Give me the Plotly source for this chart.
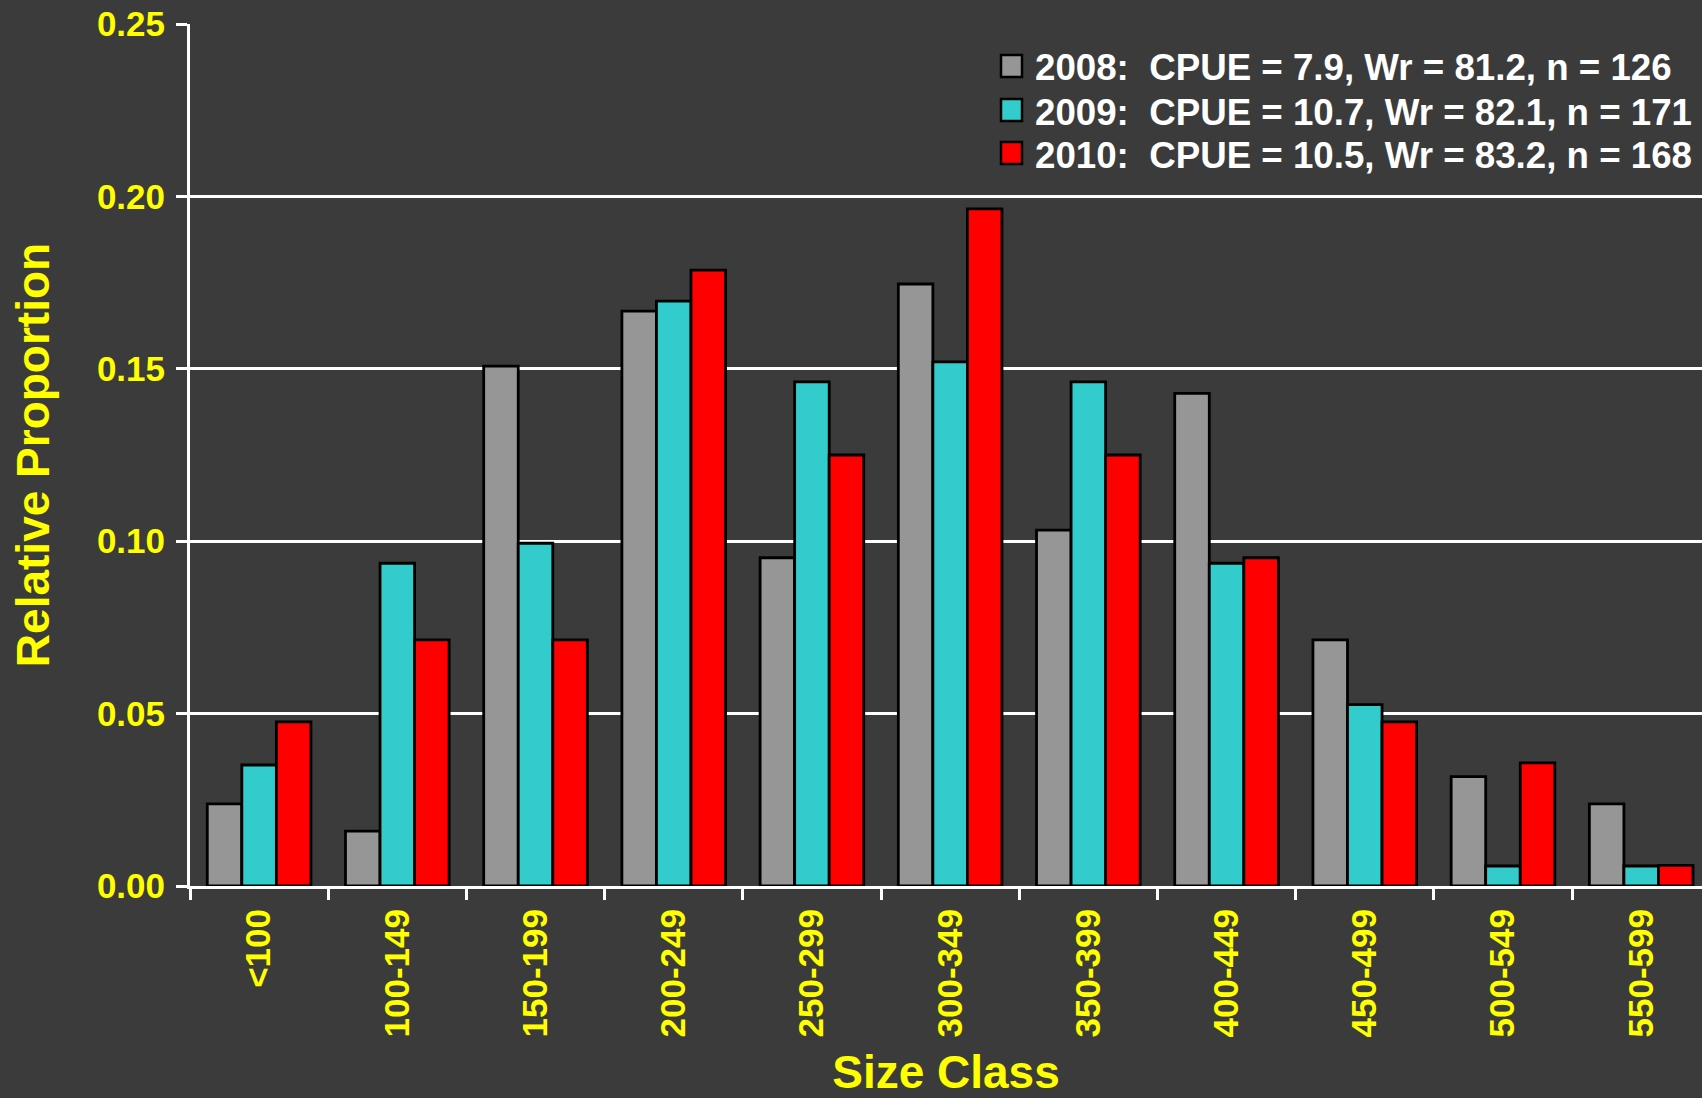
import plotly.graph_objects as go

size_classes = ["<100", "100-149", "150-199", "200-249", "250-299", "300-349",
                "350-399", "400-449", "450-499", "500-549", "550-599"]
prop_2008 = [0.0238, 0.0159, 0.1508, 0.1667, 0.0952, 0.1746, 0.1032, 0.1429, 0.0714, 0.0317, 0.0238]
prop_2009 = [0.0351, 0.0936, 0.0994, 0.1696, 0.1462, 0.1520, 0.1462, 0.0936, 0.0526, 0.0058, 0.0058]
prop_2010 = [0.0476, 0.0714, 0.0714, 0.1786, 0.1250, 0.1964, 0.1250, 0.0952, 0.0476, 0.0357, 0.0060]
legend_labels = [
    "2008:\u00a0 CPUE = 7.9, Wr = 81.2, n = 126",
    "2009:\u00a0 CPUE = 10.7, Wr = 82.1, n = 171",
    "2010:\u00a0 CPUE = 10.5, Wr = 83.2, n = 168",
]
colors = ["#969696", "#33CCCC", "#FF0000"]
series = [prop_2008, prop_2009, prop_2010]

W, H = 1702, 1098
L, R, T, B = 190, 0, 24, 212
FONT = "Liberation Sans, Arial, sans-serif"
BG = "#3b3b3b"

fig = go.Figure()
for vals, col, name in zip(series, colors, legend_labels):
    fig.add_trace(go.Bar(
        x=size_classes, y=vals, name=name,
        marker=dict(color=col, line=dict(color="black", width=2.8)),
        showlegend=False,
    ))

# custom legend (large squares)
pw = W - L - R
ph = H - T - B
def px2x(px):
    return (px - L) / pw
def py2y(py):
    return (H - B - py) / ph

row_centers = [66, 110, 153]
shapes = []
annotations = []
for yc, col, name in zip(row_centers, colors, legend_labels):
    shapes.append(dict(type="rect", xref="paper", yref="paper",
                       x0=px2x(1001), x1=px2x(1022), y0=py2y(yc + 11), y1=py2y(yc - 11),
                       fillcolor=col, line=dict(color="black", width=2.5), layer="above"))
    annotations.append(dict(xref="paper", yref="paper", x=px2x(1033), y=py2y(yc + 2),
                            xanchor="left", yanchor="middle", showarrow=False,
                            text=name, font=dict(family=FONT, size=36.7, color="white", weight="bold")))

fig.update_layout(
    width=W, height=H,
    margin=dict(l=L, r=R, t=T, b=B, pad=0),
    paper_bgcolor=BG, plot_bgcolor=BG,
    barmode="group", bargap=0.25, bargroupgap=0,
    shapes=shapes, annotations=annotations,
    font=dict(family=FONT, color="#FFFF00"),
    xaxis=dict(
        type="category", range=[-0.5, 10.44],
        tickson="boundaries", ticks="outside", ticklen=11, tickwidth=3, tickcolor="white",
        showline=True, linecolor="white", linewidth=3,
        showgrid=False, tickangle=-90,
        tickfont=dict(family=FONT, size=35, color="#FFFF00", weight="bold"),
        ticklabelstandoff=6,
        title=dict(text="Size Class", standoff=33,
                   font=dict(family=FONT, size=46, color="#FFFF00", weight="bold")),
        automargin=False,
    ),
    yaxis=dict(
        range=[0, 0.25], tickvals=[0, 0.05, 0.10, 0.15, 0.20, 0.25],
        ticktext=["0.00", "0.05", "0.10", "0.15", "0.20", "0.25"],
        ticks="outside", ticklen=11, tickwidth=3, tickcolor="white",
        showline=True, linecolor="white", linewidth=3,
        showgrid=True, gridcolor="white", gridwidth=2.5,
        zeroline=False,
        tickfont=dict(family=FONT, size=35, color="#FFFF00", weight="bold"),
        ticklabelstandoff=4,
        title=dict(text="Relative Proportion", standoff=33,
                   font=dict(family=FONT, size=46, color="#FFFF00", weight="bold")),
        automargin=False,
    ),
)

fig.write_html(
    "out.html",
    config={"displayModeBar": False},
    post_script="document.body.style.margin='0';document.body.style.background='%s';" % BG,
)
